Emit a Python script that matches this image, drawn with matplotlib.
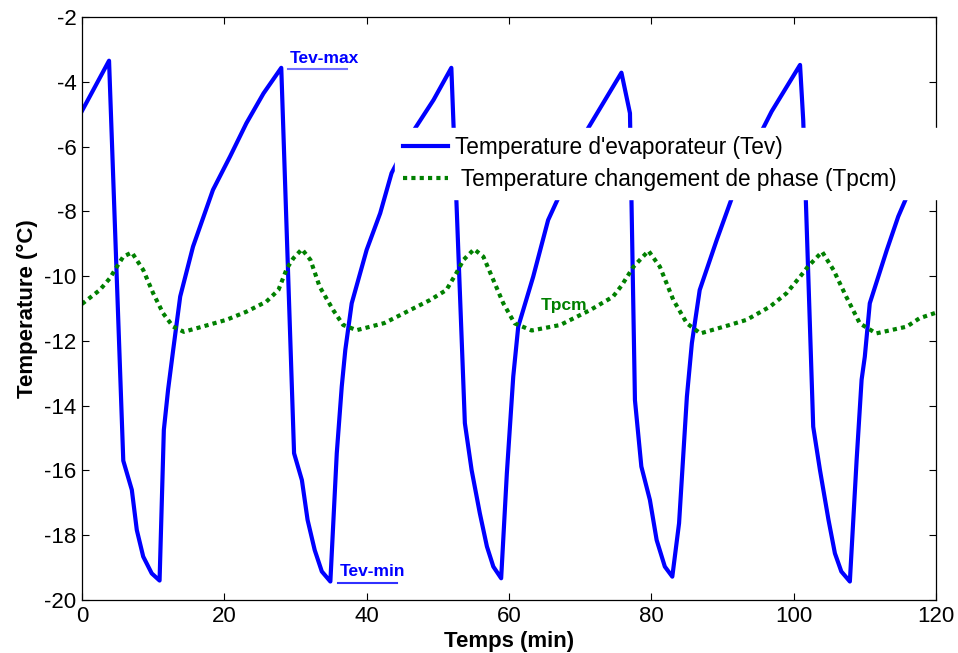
import matplotlib
matplotlib.use("Agg")
import matplotlib.pyplot as plt

plt.rcParams['font.family'] = ['Liberation Sans', 'DejaVu Sans']
plt.rcParams['axes.unicode_minus'] = False

# evaporator temperature (Tev)
tev_t = [0, 3.8, 5.8, 7.0, 7.7, 8.6, 9.8, 10.9, 11.5, 12.1, 12.8, 13.8, 15.6, 18.4,
         20.8, 23.1, 25.5, 28.0,
         29.8, 30.9, 31.7, 32.7, 33.7, 34.9, 35.8, 36.5, 37.0, 37.9, 40.0, 41.9,
         43.5, 46.8, 49.4, 51.9,
         53.8, 54.75, 55.9, 56.9, 57.8, 58.9, 59.7, 60.6, 61.3, 63.4, 65.5, 66.9,
         71.1, 75.8,
         77.0, 77.7, 78.6, 79.8, 80.75, 81.9, 82.95, 83.9, 85.0, 85.7, 86.8, 89.2,
         91.3, 95.7, 96.9, 100.9,
         101.35, 102.75, 103.7, 104.9, 105.8, 106.7, 107.9, 108.85, 109.55, 110.0,
         110.7, 113.1, 114.7, 115.9, 118.0, 120.0]
tev = [-4.9, -3.35, -15.7, -16.6, -17.84, -18.66, -19.18, -19.4, -14.75, -13.5, -12.3, -10.63, -9.09, -7.34,
       -6.31, -5.28, -4.36, -3.57,
       -15.47, -16.3, -17.53, -18.46, -19.12, -19.43, -15.47, -13.41, -12.28, -10.84, -9.19, -8.06,
       -6.82, -5.44, -4.56, -3.57,
       -14.54, -15.99, -17.32, -18.35, -18.97, -19.33, -16.09, -13.1, -11.56, -10.02, -8.27, -7.6,
       -5.44, -3.72,
       -4.97, -13.83, -15.88, -16.91, -18.15, -18.97, -19.28, -17.63, -13.72, -12.07, -10.43, -8.88,
       -7.6, -5.44, -4.92, -3.48,
       -5.2, -14.65, -15.99, -17.53, -18.56, -19.12, -19.43, -15.68, -13.2, -12.49,
       -10.84, -9.19, -8.16, -7.55, -6.5, -5.7]

# phase change material temperature (Tpcm)
tpcm_t = [0, 2.5, 3.9, 4.9, 5.8, 7.0, 8.6, 10.0, 11.4, 12.8, 14.3, 16.6, 20.3, 23.1,
          25.9, 27.6, 28.8, 29.7, 30.9, 32.1, 33.4, 35.3, 36.7, 38.6, 42.5, 46.1,
          48.9, 51.2, 52.6, 53.6, 55.1, 56.4, 57.8, 59.2, 60.8, 63.2, 67.2, 71.4,
          74.6, 75.8, 77.5, 79.6, 81.2, 83.1, 85.0, 86.9, 91.0, 93.4, 96.7, 99.0,
          100.9, 102.0, 104.0, 105.6, 107.4, 109.3, 111.6, 115.9, 117.7, 120.0]
tpcm = [-10.86, -10.43, -10.07, -9.71, -9.4, -9.27, -9.81, -10.53, -11.15, -11.56, -11.72, -11.58, -11.35, -11.1,
        -10.79, -10.43, -9.76, -9.45, -9.17, -9.5, -10.33, -11.05, -11.51, -11.67, -11.45, -11.05,
        -10.74, -10.43, -9.91, -9.5, -9.17, -9.4, -10.12, -10.84, -11.46, -11.68, -11.51, -11.05,
        -10.64, -10.3, -9.71, -9.22, -9.71, -10.74, -11.46, -11.77, -11.51, -11.35, -10.94, -10.53,
        -10.02, -9.71, -9.25, -9.81, -10.64, -11.46, -11.77, -11.56, -11.3, -11.13]

x_ticks = [0, 20, 40, 60, 80, 100, 120]
y_ticks = [-20, -18, -16, -14, -12, -10, -8, -6, -4, -2]

fig = plt.figure(figsize=(9.58, 6.53), dpi=100)
ax = fig.add_axes([0.0856, 0.0812, 0.8914, 0.8928])

ax.plot(tev_t, tev, color='#0000ff', lw=3, label="Temperature d'evaporateur (Tev)")
ax.plot(tpcm_t, tpcm, color='#008000', lw=3, linestyle=(0, (1, 1)),
        dash_capstyle='butt', label=' Temperature changement de phase (Tpcm)')

ax.set_xlim(0, 120)
ax.set_ylim(-20, -2)
ax.set_xticks(x_ticks)
ax.set_yticks(y_ticks)
ax.tick_params(direction='in', length=5, width=0.8, top=True, right=True,
               labelsize=16, pad=4)
for s in ax.spines.values():
    s.set_linewidth(0.9)

ax.set_xlabel('Temps (min)', fontsize=16, fontweight='bold')
ax.set_ylabel('Temperature (°C)', fontsize=16, fontweight='bold')
ax.xaxis.set_label_coords(0.5, -0.053)
ax.yaxis.set_label_coords(-0.052, 0.5)

# small annotations
ax.text(34.1, -3.27, 'Tev-max', color='#0000ff', fontsize=12.5, fontweight='bold',
        ha='center', va='center')
ax.plot([28.9, 37.2], [-3.61, -3.61], color='#7070ff', lw=1.5)
ax.text(40.8, -19.12, 'Tev-min', color='#0000ff', fontsize=12.5, fontweight='bold',
        ha='center', va='center')
ax.plot([36.0, 44.3], [-19.47, -19.47], color='#3030ff', lw=1.5)
ax.text(67.7, -10.9, 'Tpcm', color='#008000', fontsize=12.5, fontweight='bold',
        ha='center', va='center')

leg = ax.legend(loc='upper left', bbox_to_anchor=(0.3665, 0.6895, 0.64, 0.12),
                mode='expand', borderaxespad=0, fontsize=16.3, frameon=True,
                fancybox=False, framealpha=1, edgecolor='white', facecolor='white',
                handlelength=2.0, handletextpad=0.3, labelspacing=0.4, borderpad=0.35)

fig.savefig('out.png', dpi=100)
